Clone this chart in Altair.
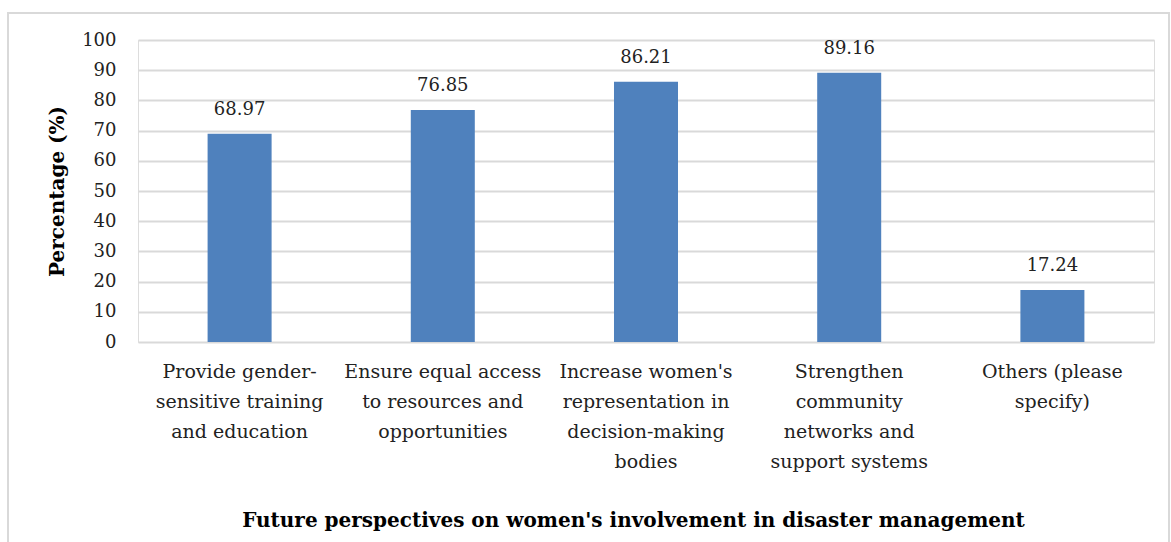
import altair as alt
import pandas as pd

categories = [
    "Provide gender-|sensitive training|and education",
    "Ensure equal access|to resources and|opportunities",
    "Increase women's|representation in|decision-making|bodies",
    "Strengthen|community|networks and|support systems",
    "Others (please|specify)",
]
values = [68.97, 76.85, 86.21, 89.16, 17.24]
labels = ["68.97", "76.85", "86.21", "89.16", "17.24"]
y_ticks = [0, 10, 20, 30, 40, 50, 60, 70, 80, 90, 100]

df = pd.DataFrame({"cat": categories, "val": values, "lab": labels})

FONT = "DejaVu Serif"
BAR = "#4F81BD"
GRID = "#D9D9D9"

x = alt.X(
    "cat:N",
    sort=categories,
    scale=alt.Scale(paddingInner=0.685, paddingOuter=0.3425),
    axis=alt.Axis(
        title="Future perspectives on women's involvement in disaster management",
        titleFont=FONT,
        titleFontSize=20,
        titleFontWeight="bold",
        titleColor="#000000",
        titleY=178,
        titleX=495,
        titleBaseline="middle",
        labelExpr="split(datum.label, '|')",
        labelAngle=0,
        labelFont=FONT,
        labelFontSize=19,
        labelColor="#222222",
        labelLineHeight=30,
        labelPadding=20,
        labelBaseline="top",
        labelLimit=400,
        labelOverlap=False,
        ticks=False,
        domain=False,
        grid=False,
    ),
)

y = alt.Y(
    "val:Q",
    scale=alt.Scale(domain=[0, 100], nice=False),
    axis=alt.Axis(
        title="Percentage (%)",
        titleFont=FONT,
        titleFontSize=20,
        titleFontWeight="bold",
        titleColor="#000000",
        titlePadding=14,
        values=y_ticks,
        tickCount=11,
        labelFont=FONT,
        labelFontSize=18,
        labelColor="#222222",
        labelPadding=22,
        labelOverlap=False,
        ticks=False,
        domain=False,
        grid=True,
        gridColor=GRID,
        gridWidth=2,
    ),
)

bars = alt.Chart(df).mark_bar(color=BAR).encode(x=x, y=y)

text = alt.Chart(df).mark_text(
    font=FONT, fontSize=18, color="#222222", dy=-24, baseline="middle"
).encode(x=x, y=y, text="lab:N")

frame = alt.Chart(df).mark_rect(
    fill=None, stroke=GRID, strokeWidth=2, clip=False
).encode(
    x=alt.value(-130), x2=alt.value(1031), y=alt.value(-27), y2=alt.value(600)
)

chart = (
    alt.layer(frame, bars, text)
    .properties(
        width=1016,
        height=302,
        autosize=alt.AutoSizeParams(type="none"),
        padding={"left": 138, "top": 40, "right": 17, "bottom": 200},
    )
    .configure_view(stroke=None)
    .configure(background="white")
)

chart.save("out.html", embed_options={"renderer": "svg", "actions": False})
